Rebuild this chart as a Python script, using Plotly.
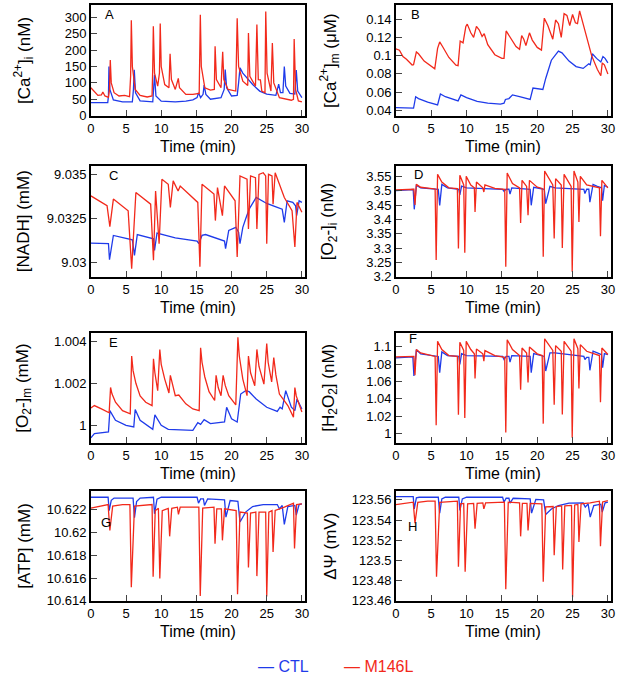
import plotly.graph_objects as go

# ---------------- DATA ----------------
# Panel A: [Ca2+]i (nM)
t_A_ctl = [0, 2.4, 2.5, 2.57, 2.7, 3.2, 4.5, 5.9, 6.05, 6.17, 6.35, 7.0, 8.8, 8.95, 9.05, 9.25, 10, 12, 13.5, 14.5,
           15.1, 15.3, 15.6, 15.95, 16.1, 16.35, 17.0, 18.5, 18.95, 19.1, 19.3, 20.0, 20.8, 21.0, 21.2, 21.6, 22.0,
           22.5, 23.0, 24.0, 25.0, 26.3, 26.7, 26.95, 27.3, 27.5, 27.7, 28.3, 29.0, 29.2, 29.4, 30]
ca_i_ctl = [40, 40, 60, 150, 80, 48, 42, 42, 80, 140, 70, 45, 42, 80, 125, 60, 44, 42, 44, 48,
            55, 70, 55, 65, 93, 65, 50, 55, 80, 141, 85, 60, 62, 100, 146, 130, 120,
            108, 95, 75, 66, 62, 96, 70, 70, 150, 90, 68, 66, 139, 75, 55]
t_A_mut = [0, 0.4, 1.0, 1.5, 1.7, 2.0, 2.5, 2.65, 2.76, 2.9, 3.3, 4.0, 4.8, 5.5, 5.65, 5.75, 5.9, 6.3, 7.0, 8.0,
           8.7, 8.8, 8.88, 9.05, 9.5, 9.75, 9.86, 10.0, 10.5, 11.1, 11.26, 11.45, 12.0, 12.43, 12.6, 13.5, 14.5,
           15.4, 15.56, 15.7, 16.2, 17.0, 17.55, 17.66, 17.85, 18.5, 18.74, 18.9, 19.5, 20.6, 20.8, 21.0, 21.6,
           22.3, 22.4, 22.6, 23.4, 23.6, 23.8, 24.1, 24.3, 24.75, 24.86, 25.05, 25.6, 25.8, 26.0, 26.8, 27.5,
           28.5, 28.8, 28.9, 29.1, 29.5, 30]
ca_i_mut = [85, 75, 62, 63, 72, 60, 56, 80, 170, 100, 70, 60, 62, 58, 120, 291, 150, 80, 62, 57,
            60, 150, 273, 130, 90, 130, 281, 150, 95, 85, 189, 110, 80, 114, 85, 65, 65,
            68, 308, 150, 85, 78, 80, 212, 110, 85, 195, 110, 80, 75, 297, 150, 105,
            92, 252, 120, 90, 278, 110, 109, 75, 70, 318, 130, 75, 222, 100, 55, 52,
            47, 50, 234, 80, 45, 42]

# Panel B: [Ca2+]m (uM)
t_B_ctl = [0, 2.5, 2.8, 3.2, 4.5, 5.9, 6.3, 7.0, 8.8, 9.2, 10, 11.5, 13, 14.8, 15.3, 15.5, 16.0, 16.5, 17.5,
           19.0, 19.4, 20.0, 20.8, 21.2, 22.0, 23.0, 23.5, 24.5, 25.5, 26.5, 27.0, 27.3, 27.5, 27.8, 28.4,
           29.0, 29.3, 29.6, 30]
ca_m_ctl = [0.043, 0.0425, 0.055, 0.053, 0.049, 0.046, 0.058, 0.055, 0.0505, 0.057, 0.054, 0.05, 0.048, 0.047,
            0.048, 0.052, 0.053, 0.057, 0.055, 0.052, 0.0645, 0.064, 0.063, 0.075, 0.095, 0.105, 0.103, 0.094,
            0.088, 0.086, 0.089, 0.091, 0.09, 0.102, 0.097, 0.093, 0.099, 0.097, 0.092]
t_B_mut = [0, 0.5, 1.0, 1.5, 2.3, 2.5, 2.9, 3.2, 4.0, 5.0, 5.5, 5.9, 6.2, 6.6, 7.5, 8.5, 8.8, 9.1, 9.5, 9.9,
           10.1, 10.6, 11.0, 11.4, 11.8, 12.2, 12.5, 13.0, 14.0, 15.0, 15.3, 15.6, 16.0, 17.0, 17.5, 17.8,
           18.1, 18.4, 18.9, 19.3, 20.0, 20.6, 21.0, 21.5, 22.2, 22.6, 23.0, 23.4, 23.8, 24.2, 24.6, 25.0,
           25.4, 25.7, 26.0, 26.3, 27.0, 27.7, 28.5, 29.0, 29.2, 29.5, 30]
ca_m_mut = [0.1075, 0.106, 0.099, 0.096, 0.0898, 0.09, 0.104, 0.102, 0.094, 0.088, 0.0855, 0.108, 0.115, 0.11,
            0.098, 0.0895, 0.089, 0.116, 0.114, 0.132, 0.1345, 0.125, 0.12, 0.132, 0.128, 0.121, 0.124, 0.112,
            0.101, 0.097, 0.097, 0.127, 0.122, 0.11, 0.107, 0.122, 0.118, 0.111, 0.125, 0.117, 0.109, 0.106,
            0.141, 0.133, 0.118, 0.139, 0.135, 0.12, 0.146, 0.144, 0.133, 0.145, 0.136, 0.135, 0.149, 0.14,
            0.119, 0.1, 0.085, 0.078, 0.092, 0.09, 0.08]

# Panel C: [NADH] (mM)
t_C_ctl = [0, 2.5, 2.65, 3.2, 5.9, 6.2, 6.6, 8.9, 9.05, 9.4, 12, 15.1, 15.35, 15.8, 16.3, 19.0, 19.15, 19.6,
           20.6, 21.0, 21.2, 21.6, 22.0, 22.5, 23.5, 25.0, 26.5, 27.2, 27.5, 27.9, 28.7, 29.1, 29.25, 29.6, 30]
nadh_ctl = [9.0311, 9.03107, 9.03017, 9.03154, 9.03129, 9.03041, 9.03159, 9.03135, 9.03069, 9.03167, 9.0314,
            9.03122, 9.03107, 9.03154, 9.03159, 9.03122, 9.03079, 9.03182, 9.032, 9.03172, 9.03107, 9.032,
            9.03247, 9.03303, 9.03369, 9.03335, 9.03313, 9.03303, 9.03228, 9.0335, 9.03341, 9.03322, 9.03266,
            9.0335, 9.03341]
t_C_mut = [0, 2.3, 2.7, 3.2, 5.3, 5.8, 6.4, 8.5, 8.9, 9.2, 9.7, 10.1, 11.0, 11.3, 11.7, 12.4, 12.7, 15.2, 15.5,
           15.8, 17.5, 17.7, 18.0, 18.7, 19.0, 20.5, 20.8, 21.2, 22.2, 22.4, 22.7, 23.4, 23.6, 23.9, 24.5,
           24.85, 25.0, 25.25, 25.75, 25.9, 26.2, 27.5, 28.6, 29.0, 29.3, 30]
nadh_mut = [9.03378, 9.03322, 9.03204, 9.0336, 9.03294, 9.02966, 9.03397, 9.03331, 9.03013, 9.03406, 9.03107,
            9.03472, 9.03444, 9.03313, 9.03463, 9.03406, 9.03434, 9.03341, 9.02976, 9.03444, 9.03388, 9.03238,
            9.03425, 9.03266, 9.03434, 9.0335, 9.03032, 9.03491, 9.03472, 9.03191, 9.03491, 9.03481, 9.03191,
            9.035, 9.03509, 9.03491, 9.03107, 9.035, 9.03491, 9.03331, 9.03509, 9.03369, 9.03294, 9.03088,
            9.03341, 9.03285]

# Panel D: [O2-]i (nM)
t_D_ctl = [0, 2.45, 2.6, 2.9, 3.5, 6.0, 6.2, 6.5, 7.3, 8.9, 9.05, 9.3, 10, 15.1, 15.3, 15.6, 16.0, 16.15, 16.4,
           19.0, 19.15, 19.5, 21.0, 21.2, 21.8, 22.5, 26.6, 26.75, 27.0, 27.3, 27.45, 27.9, 28.5, 29.1, 29.25,
           29.5, 30]
o2i_ctl = [3.5, 3.504, 3.435, 3.519, 3.51, 3.505, 3.449, 3.522, 3.51, 3.505, 3.485, 3.516, 3.51, 3.505, 3.498,
           3.505, 3.505, 3.488, 3.51, 3.505, 3.449, 3.512, 3.505, 3.455, 3.515, 3.51, 3.505, 3.49, 3.505, 3.505,
           3.46, 3.522, 3.515, 3.51, 3.465, 3.518, 3.512]
t_D_mut = [0, 2.55, 2.7, 2.9, 3.5, 5.55, 5.7, 5.9, 6.5, 7.5, 8.7, 8.85, 9.05, 9.6, 9.75, 9.95, 10.6, 11.1, 11.2,
           11.4, 12.3, 12.45, 12.6, 14, 15.4, 15.55, 15.75, 16.5, 17.5, 17.65, 17.85, 18.5, 18.7, 18.9, 20,
           20.7, 20.85, 21.05, 22.2, 22.4, 22.6, 23.4, 23.55, 23.8, 24.8, 24.95, 25.2, 25.75, 25.9, 26.1, 27.0,
           28.8, 28.95, 29.15, 30]
o2i_mut = [3.503, 3.505, 3.45, 3.522, 3.512, 3.506, 3.258, 3.557, 3.53, 3.51, 3.507, 3.2985, 3.5535, 3.52,
           3.2834, 3.55, 3.52, 3.51, 3.426, 3.53, 3.51, 3.4955, 3.52, 3.508, 3.505, 3.2348, 3.5616, 3.525, 3.51,
           3.3878, 3.536, 3.515, 3.4144, 3.536, 3.512, 3.508, 3.2695, 3.5685, 3.52, 3.3333, 3.542, 3.52, 3.3,
           3.557, 3.515, 3.2174, 3.5685, 3.53, 3.3913, 3.55, 3.52, 3.51, 3.3414, 3.536, 3.51]

# Panel E: [O2-]m (mM)
t_E_ctl = [0, 0.5, 2.5, 2.7, 3.5, 5.0, 6.1, 6.3, 7.0, 8.8, 9.1, 10, 11, 14.5, 15.2, 15.6, 16.1, 17, 19, 19.3,
           20, 20.8, 21.3, 22.0, 22.5, 23.5, 25, 26.5, 26.9, 27.2, 27.7, 28.5, 29.0, 29.3, 30]
o2m_ctl = [0.9994, 0.99961, 0.99969, 1.0007, 1.00024, 1.0, 0.99992, 1.00075, 1.00024, 0.99981, 1.0005, 1.0,
           0.99981, 0.99976, 1.00013, 1.00005, 1.00027, 1.00008, 1.00016, 1.00086, 1.00031, 1.00016, 1.00149,
           1.00165, 1.0016, 1.00125, 1.00086, 1.00066, 1.00086, 1.00078, 1.00165, 1.00086, 1.0007, 1.00125,
           1.00078]
t_E_mut = [0, 0.5, 1.5, 2.6, 2.8, 3.0, 3.5, 4.5, 5.6, 5.8, 6.0, 6.4, 7.0, 7.8, 8.7, 8.9, 9.1, 9.5, 9.8, 10.0,
           10.5, 11.1, 11.3, 11.6, 12.0, 12.5, 13.5, 14.5, 15.4, 15.6, 15.8, 16.2, 16.8, 17.6, 17.8, 18.1, 18.5,
           18.8, 19.1, 19.6, 20.6, 20.9, 21.1, 21.6, 22.2, 22.4, 22.7, 23.3, 23.6, 23.9, 24.6, 25.0, 25.2, 25.7,
           26.0, 26.3, 26.8, 28.0, 28.8, 29.0, 29.2, 29.5, 30]
o2m_mut = [1.00082, 1.00094, 1.00078, 1.0006, 1.0018, 1.0015, 1.0011, 1.0007, 1.00055, 1.0033, 1.0026, 1.0020,
           1.0014, 1.0011, 1.00094, 1.00317, 1.0025, 1.00165, 1.00361, 1.0029, 1.0022, 1.00154, 1.00238, 1.0019,
           1.00141, 1.00144, 1.00102, 1.00078, 1.0007, 1.00369, 1.003, 1.0023, 1.0016, 1.00118, 1.00238, 1.0018,
           1.00141, 1.00238, 1.0019, 1.00141, 1.00097, 1.00419, 1.0033, 1.0022, 1.00141, 1.0033, 1.0025,
           1.00188, 1.00361, 1.0028, 1.00196, 1.00389, 1.003, 1.00207, 1.00322, 1.0024, 1.00149, 1.00094,
           1.00039, 1.0018, 1.0014, 1.0011, 1.00063]

# Panel F: [H2O2] (nM)
t_F_ctl = [0, 2.4, 2.55, 2.9, 3.5, 6.0, 6.2, 6.5, 7.3, 8.9, 9.05, 9.3, 10, 15.1, 15.3, 15.6, 16.0, 16.15, 16.4,
           19.0, 19.15, 19.5, 21.0, 21.2, 21.8, 22.5, 26.6, 26.75, 27.0, 27.3, 27.45, 27.9, 28.5, 29.1, 29.25,
           29.5, 30]
h2o2_ctl = [1.0874, 1.0885, 1.0665, 1.0969, 1.092, 1.089, 1.0703, 1.0942, 1.09, 1.089, 1.0798, 1.0923, 1.09,
            1.089, 1.0855, 1.089, 1.089, 1.0825, 1.09, 1.089, 1.0703, 1.0923, 1.089, 1.0722, 1.0931, 1.093,
            1.089, 1.0855, 1.088, 1.088, 1.073, 1.095, 1.093, 1.091, 1.076, 1.0923, 1.0912]
t_F_mut = t_D_mut
h2o2_mut = [1.0885, 1.089, 1.0673, 1.0969, 1.093, 1.089, 1.0095, 1.1064, 1.097, 1.09, 1.089, 1.0217, 1.1053,
            1.096, 1.0179, 1.1064, 1.097, 1.092, 1.0635, 1.0977, 1.092, 1.0836, 1.0958, 1.09, 1.088, 1.0011,
            1.1083, 1.097, 1.09, 1.0505, 1.0988, 1.093, 1.0589, 1.0999, 1.092, 1.09, 1.0114, 1.1094, 1.096,
            1.0331, 1.1015, 1.095, 1.022, 1.1064, 1.095, 0.995, 1.1094, 1.098, 1.0521, 1.1026, 1.095, 1.09,
            1.0361, 1.0988, 1.0912]

# Panel G: [ATP] (mM)
t_G_ctl = [0, 2.45, 2.6, 2.9, 3.3, 6.0, 6.2, 6.5, 7.0, 8.9, 9.05, 9.4, 10, 15.1, 15.3, 15.6, 16.0, 16.15, 16.6,
           19.0, 19.2, 19.8, 20.9, 21.2, 22.0, 23.0, 24.5, 26.5, 26.8, 27.2, 27.5, 28.0, 29.0, 29.2, 29.6, 30]
atp_ctl = [10.62307, 10.62307, 10.6219, 10.6228, 10.623, 10.623, 10.62128, 10.6227, 10.623, 10.62307, 10.62162,
           10.6229, 10.62307, 10.62307, 10.62255, 10.62293, 10.62293, 10.62235, 10.62293, 10.62284, 10.62133,
           10.62278, 10.62272, 10.6209, 10.62177, 10.62226, 10.62243, 10.62243, 10.62206, 10.62235, 10.6207,
           10.62226, 10.62235, 10.6215, 10.62243, 10.6225]
t_G_mut = [0, 1.0, 2.45, 2.7, 3.1, 4.5, 5.55, 5.75, 6.2, 8.7, 8.85, 9.15, 9.6, 9.8, 10.15, 11.0, 11.2, 11.5,
           12.3, 12.45, 12.7, 15.35, 15.55, 15.9, 17.5, 17.65, 17.9, 18.55, 18.7, 19.0, 20.65, 20.85, 21.2,
           22.25, 22.4, 22.7, 23.45, 23.6, 23.9, 24.85, 25.0, 25.3, 25.75, 25.9, 26.2, 27.5, 28.8, 28.95,
           29.25, 30]
atp_mut = [10.62212, 10.62226, 10.62243, 10.62017, 10.6223, 10.62243, 10.62243, 10.61519, 10.6223, 10.62243,
           10.61612, 10.6219, 10.6221, 10.61597, 10.6219, 10.6221, 10.61965, 10.6221, 10.6222, 10.62157,
           10.6222, 10.6222, 10.61443, 10.62212, 10.6222, 10.61901, 10.62206, 10.62206, 10.6193, 10.62206,
           10.62191, 10.61458, 10.62177, 10.62168, 10.61693, 10.62168, 10.62177, 10.61617, 10.62177, 10.62177,
           10.61438, 10.62177, 10.6219, 10.61829, 10.62191, 10.6222, 10.62255, 10.61858, 10.62243, 10.62249]

# Panel H: Delta Psi (mV)
t_H_ctl = t_G_ctl
dpsi_ctl = [123.5633, 123.5633, 123.5511, 123.562, 123.5626, 123.5626, 123.5469, 123.561, 123.5626, 123.5626,
            123.5495, 123.561, 123.5626, 123.5626, 123.5577, 123.5616, 123.5616, 123.5567, 123.5616, 123.561,
            123.5469, 123.5605, 123.56, 123.5456, 123.551, 123.5544, 123.5567, 123.557, 123.5528, 123.556,
            123.543, 123.5544, 123.5557, 123.5479, 123.557, 123.5577]
t_H_mut = t_G_mut
dpsi_mut = [123.5554, 123.5565, 123.5577, 123.537, 123.5575, 123.5587, 123.5587, 123.4839, 123.5575, 123.5587,
            123.4938, 123.556, 123.5565, 123.4889, 123.556, 123.5565, 123.5315, 123.5565, 123.557, 123.5511,
            123.557, 123.5577, 123.4715, 123.5577, 123.557, 123.5239, 123.5565, 123.5565, 123.5298, 123.5565,
            123.556, 123.479, 123.553, 123.5534, 123.5052, 123.5534, 123.554, 123.4911, 123.554, 123.5545,
            123.4636, 123.555, 123.5555, 123.5184, 123.556, 123.557, 123.5587, 123.5141, 123.558, 123.5593]

# Tick values / labels
x_ticks = [0, 5, 10, 15, 20, 25, 30]
yt_A = [0, 50, 100, 150, 200, 250, 300]
yl_A = ["0", "50", "100", "150", "200", "250", "300"]
yt_B = [0.04, 0.06, 0.08, 0.1, 0.12, 0.14]
yl_B = ["0.04", "0.06", "0.08", "0.1", "0.12", "0.14"]
yt_C = [9.03, 9.0325, 9.035]
yl_C = ["9.03", "9.0325", "9.035"]
yt_D = [3.2, 3.25, 3.3, 3.35, 3.4, 3.45, 3.5, 3.55]
yl_D = ["3.2", "3.25", "3.3", "3.35", "3.4", "3.45", "3.5", "3.55"]
yt_E = [1.0, 1.002, 1.004]
yl_E = ["1", "1.002", "1.004"]
yt_F = [1.0, 1.02, 1.04, 1.06, 1.08, 1.1]
yl_F = ["1", "1.02", "1.04", "1.06", "1.08", "1.1"]
yt_G = [10.614, 10.616, 10.618, 10.62, 10.622]
yl_G = ["10.614", "10.616", "10.618", "10.62", "10.622"]
yt_H = [123.46, 123.48, 123.5, 123.52, 123.54, 123.56]
yl_H = ["123.46", "123.48", "123.5", "123.52", "123.54", "123.56"]

series_names = ["CTL", "M146L"]
panel_letters = ["A", "B", "C", "D", "E", "F", "G", "H"]
y_titles = ["[Ca<sup>2+</sup>]<sub>i</sub> (nM)", "[Ca<sup>2+</sup>]<sub>m</sub> (μM)", "[NADH] (mM)",
            "[O<sub>2</sub>-]<sub>i</sub> (nM)", "[O<sub>2</sub>-]<sub>m</sub> (mM)",
            "[H<sub>2</sub>O<sub>2</sub>] (nM)", "[ATP] (mM)", "ΔΨ (mV)"]
x_title = "Time (min)"

# ---------------- FIGURE ----------------
W, H = 621, 685
BLUE = "#1f3bea"
RED = "#f2291b"
FONT = "Liberation Sans, Arial, sans-serif"

panels = [
    (t_A_ctl, ca_i_ctl, t_A_mut, ca_i_mut, yt_A, yl_A, [0, 338]),
    (t_B_ctl, ca_m_ctl, t_B_mut, ca_m_mut, yt_B, yl_B, [0.0343, 0.1555]),
    (t_C_ctl, nadh_ctl, t_C_mut, nadh_mut, yt_C, yl_C, [9.0292, 9.03547]),
    (t_D_ctl, o2i_ctl, t_D_mut, o2i_mut, yt_D, yl_D, [3.2, 3.586]),
    (t_E_ctl, o2m_ctl, t_E_mut, o2m_mut, yt_E, yl_E, [0.99917, 1.00439]),
    (t_F_ctl, h2o2_ctl, t_F_mut, h2o2_mut, yt_F, yl_F, [0.9893, 1.116]),
    (t_G_ctl, atp_ctl, t_G_mut, atp_mut, yt_G, yl_G, [10.614, 10.6236]),
    (t_H_ctl, dpsi_ctl, t_H_mut, dpsi_mut, yt_H, yl_H, [123.46, 123.5686]),
]

col_px = [(88, 305), (397, 615)]
row_px = [(5, 117), (168, 280), (337, 448), (497, 608)]
ytitle_x = [20, 330]
letter_pos = [(100, 15), (410, 15), (104, 178), (413, 177), (104, 347), (408, 343), (96, 529), (407, 533)]

def px(x):
    return x / W

def py(y):
    return 1 - y / H

fig = go.Figure()
annotations = []
for i, (tc, vc, tm, vm, ytv, ytl, yr) in enumerate(panels):
    n = i + 1
    row, col = i // 2, i % 2
    xs = "x" if n == 1 else f"x{n}"
    ys = "y" if n == 1 else f"y{n}"
    fig.add_trace(go.Scatter(x=tc, y=vc, mode="lines", name=series_names[0], xaxis=xs, yaxis=ys,
                             line=dict(color=BLUE, width=1.3), showlegend=False))
    fig.add_trace(go.Scatter(x=tm, y=vm, mode="lines", name=series_names[1], xaxis=xs, yaxis=ys,
                             line=dict(color=RED, width=1.3), showlegend=False))
    x0, x1 = col_px[col]
    y0, y1 = row_px[row]
    xname = "xaxis" if n == 1 else f"xaxis{n}"
    yname = "yaxis" if n == 1 else f"yaxis{n}"
    fig.layout[xname] = dict(domain=[px(x0), px(x1)], range=[0, 30.45], anchor=ys,
                             tickvals=x_ticks, ticks="inside", ticklen=6, tickwidth=1,
                             showline=True, linecolor="black", linewidth=1.5, mirror=True,
                             showgrid=False, zeroline=False, tickfont=dict(size=13, color="black"))
    fig.layout[yname] = dict(domain=[py(y1), py(y0)], range=yr, anchor=xs,
                             tickvals=ytv, ticktext=ytl, ticks="inside", ticklen=6, tickwidth=1,
                             showline=True, linecolor="black", linewidth=1.5, mirror=True,
                             showgrid=False, zeroline=False, tickfont=dict(size=13, color="black"))
    # x title
    annotations.append(dict(text=x_title, x=px((x0 + x1) / 2), y=py(y1 + 31), xref="paper", yref="paper",
                            showarrow=False, xanchor="center", yanchor="middle", font=dict(size=16)))
    # y title
    annotations.append(dict(text=y_titles[i], x=px(ytitle_x[col]), y=py((y0 + y1) / 2), xref="paper",
                            yref="paper", showarrow=False, textangle=-90, xanchor="center",
                            yanchor="middle", font=dict(size=17)))
    # panel letter
    lx, ly = letter_pos[i]
    annotations.append(dict(text=panel_letters[i], x=px(lx), y=py(ly), xref="paper", yref="paper",
                            showarrow=False, xanchor="left", yanchor="middle", font=dict(size=13)))

# legend (as coloured text entries)
annotations.append(dict(text="— " + series_names[0], x=px(255), y=py(674), xref="paper", yref="paper",
                        showarrow=False, xanchor="left", yanchor="middle", font=dict(size=16, color=BLUE)))
annotations.append(dict(text="— " + series_names[1], x=px(342), y=py(674), xref="paper", yref="paper",
                        showarrow=False, xanchor="left", yanchor="middle", font=dict(size=16, color=RED)))

fig.update_layout(width=W, height=H, margin=dict(l=0, r=0, t=0, b=0), paper_bgcolor="white",
                  plot_bgcolor="white", font=dict(family=FONT, color="black"),
                  annotations=annotations, showlegend=False)
fig.write_html("out.html", config={"displayModeBar": False},
               post_script="document.body.style.margin='0';document.body.style.overflow='hidden';")
